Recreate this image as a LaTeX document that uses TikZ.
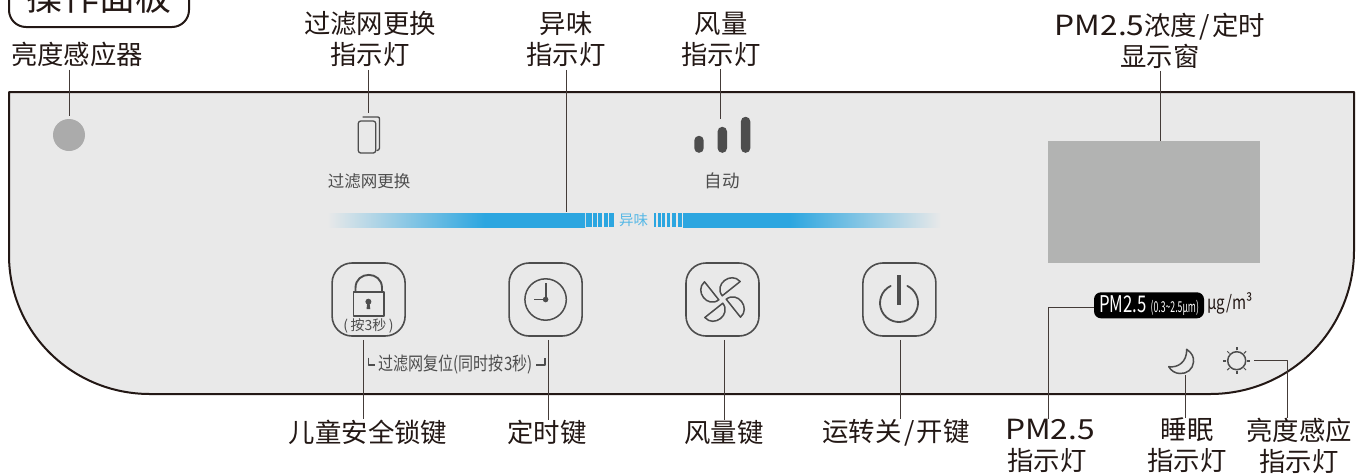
\documentclass[tikz,border=0pt]{standalone}
\usepackage{fontspec}
\setmainfont{Noto Sans CJK SC}
\newcommand{\pmtext}{\scalebox{1.2}[1.05]{PM2.5}}
\newcommand{\slashgap}{\hspace{2.5pt}/\hspace{2.5pt}}
\definecolor{inkc}{HTML}{231815}
\definecolor{iconc}{HTML}{4D4D4D}
\definecolor{panelc}{HTML}{E9E9E9}
\definecolor{windowc}{HTML}{B2B3B2}
\definecolor{sensorc}{HTML}{ABABAB}
\definecolor{barc}{HTML}{2CA6E0}
\pgfdeclarehorizontalshading{fadeleft}{100bp}{color(0bp)=(panelc); color(25bp)=(panelc); color(55.6bp)=(barc); color(100bp)=(barc)}
\pgfdeclarehorizontalshading{faderight}{100bp}{color(0bp)=(barc); color(45.7bp)=(barc); color(75bp)=(panelc); color(100bp)=(panelc)}
\tikzset{
	lbl/.style={align=center,inner sep=0pt,text=inkc,font=\fontsize{26.4}{31}\selectfont},
	small/.style={inner sep=0pt,text=iconc,font=\fontsize{16.5}{20}\selectfont},
	leader/.style={draw=inkc!85,line width=1pt,line cap=butt},
	keybox/.style={draw=iconc,line width=1.6pt,rounded corners=20pt,minimum size=73pt,inner sep=0pt},
	icon/.style={draw=iconc,line width=1.5pt},
	barpart/.style={shade,minimum width=258pt,minimum height=14pt,inner sep=0pt},
}
\begin{document}
\begin{tikzpicture}[x=1pt,y=-1pt,line join=round,line cap=round]
	\useasboundingbox (0,0) rectangle (1367,475);
	% panel
	\draw[draw=inkc,line width=2pt,fill=panelc] (9,92) -- (1354,92) -- (1354,250)
		.. controls (1354,330) and (1290,394) .. (1210,394) -- (150,394)
		.. controls (72,394) and (9,332) .. (9,255) -- cycle;
	\node[draw=inkc,line width=2pt,rounded corners=17pt,minimum width=180pt,minimum height=60pt,inner sep=0pt,font=\fontsize{36}{40}\selectfont,text=inkc] (title) at (99,-3) {操作面板};
	% upper row
	\node[circle,fill=sensorc,minimum size=32pt,inner sep=0pt] (sensor) at (69,135) {};
	\node[lbl] (lblsensor) at (77,54) {亮度感应器};
	\coordinate (sensordrop) at ([xshift=.5pt]sensor.north);
	\draw[leader,shorten <=3pt,shorten >=3pt] (sensordrop |- lblsensor.south) -- (sensordrop);
	\draw[icon,line width=1.3pt] (363,117) -- (378,117) to[out=0,in=90] (379.5,119) -- (379.5,148) to[out=-90,in=0] (377,150.5);
	\node[icon,line width=1.3pt,fill=panelc,rounded corners=2.5pt,minimum width=17.5pt,minimum height=32pt,inner sep=0pt] (filtericon) at (367,137) {};
	\node[small] (filtertxt) at (369,181) {过滤网更换};
	\node[lbl] (lblfilter) at (370,39) {过滤网更换\\指示灯};
	\coordinate (filterdrop) at ([xshift=1.5pt]filtericon.north);
	\draw[leader,shorten <=3pt,shorten >=7pt] (filterdrop |- lblfilter.south) -- (filterdrop);
	% odour bar
	\node[barpart,shading=fadeleft] (odorbar) at (456,220) {};
	\node[barpart,shading=faderight] (odorbarb) at (812,220) {};
	\foreach \a/\b in {586/591.5,593/596.5,598/602,604/607.5,609/613.5,654/656,657.7/660.7,662/665.3,667/670.3,672/676,678/682}
		\fill[barc] (\a,213) rectangle (\b,227);
	\node[inner sep=0pt,text=barc!80!white,font=\fontsize{14.5}{16}\selectfont] (odortxt) at (633.5,220) {异味};
	\node[lbl] (lblodor) at (566,39) {异味\\指示灯};
	\coordinate (odordrop) at ([xshift=110.5pt]odorbar.north);
	\draw[leader,shorten <=3pt,shorten >=1pt] (odordrop |- lblodor.south) -- (odordrop);
	% wind bars
	\foreach \nm/\x/\h in {winda/699/17,windb/722.3/26,windc/745.6/36}
		\node[fill=iconc,rounded corners=4.6pt,minimum width=9.4pt,minimum height=\h pt,inner sep=0pt,anchor=south] (\nm) at (\x,153) {};
	\node[small,font=\fontsize{17.5}{20}\selectfont] (windtxt) at (722,181) {自动};
	\node[lbl] (lblwind) at (721,39) {风量\\指示灯};
	\coordinate (winddrop) at ([xshift=-1.8pt]windb.north);
	\draw[leader,shorten <=3pt,shorten >=8pt] (winddrop |- lblwind.south) -- (winddrop);
	% display
	\node[fill=windowc,minimum width=212pt,minimum height=122pt,inner sep=0pt] (window) at (1154,202) {};
	\node[lbl] (lblwindow) at (1160,41) {\pmtext 浓度\slashgap 定时\\显示窗};
	\coordinate (windowdrop) at ([xshift=6.5pt]window.north);
	\draw[leader,shorten <=2pt] (windowdrop |- lblwindow.south) -- (windowdrop);
	% keys
	\node[keybox] (lockkey) at (368.6,299.5) {};
	\node[keybox] (clockkey) at (545.6,299.5) {};
	\node[keybox] (fankey) at (722.5,299.5) {};
	\node[keybox] (powerkey) at (899.4,299.5) {};
	\draw[icon,line width=1.9pt] (355.5,291.7) -- (355.5,288) .. controls (355.5,270.5) and (382,270.5) .. (382,288) -- (382,291.7);
	\draw[icon,line width=1.9pt] (353.5,291.7) rectangle (384.3,315.7);
	\fill[iconc] (368.4,301.7) circle (3pt);
	\fill[iconc] (367.4,302) -- (369.4,302) -- (370.3,309) -- (366.5,309) -- cycle;
	\node[small,font=\fontsize{14}{16}\selectfont] (locktxt) at (368.6,325.5) {(\hspace{2.5pt}按3秒\hspace{2.5pt})};
	\draw[icon] (clockkey.center) circle (20.7pt);
	\fill[iconc] (clockkey.center) circle (2.8pt);
	\draw[icon,line width=1.8pt,line cap=butt] (545.6,299.5) -- (545.6,282.7) (545.6,299.5) -- (534.3,299.5);
	\foreach \a in {0,90,180,270}
		\draw[icon,shift={(fankey.center)},rotate=\a] (-0.3,-3.7) .. controls (-9,-15) and (8.5,-28.5) .. (17.7,-18) -- cycle;
	\draw[icon,line width=1.8pt] (899,303) ++(116:19pt) arc[start angle=116,end angle=424,radius=19pt];
	\draw[iconc,line width=3.7pt,line cap=butt] (899,275) -- (899,305);
	\node[small,font=\fontsize{18.5}{20}\selectfont] (resettxt) at (455.5,364) {\scalebox{.814}[1]{过滤网复位(同时按3秒)}};
	\draw[iconc,line width=1.3pt,line cap=butt] (368.3,357.7) -- (368.3,365) -- (375,365);
	\draw[iconc,line width=1.3pt,line cap=butt] (536,365) -- (545,365) -- (545,357.7);
	% bottom labels
	\node[lbl] (lbllock) at (368,432) {儿童安全锁键};
	\node[lbl] (lblclock) at (547,432) {定时键};
	\node[lbl] (lblfan) at (724,432) {风量键};
	\node[lbl] (lblpower) at (896,433) {运转关\slashgap 开键};
	\coordinate (lockdrop) at ([xshift=-5.1pt]lockkey.south);
	\coordinate (clockdrop) at ([xshift=2.9pt]clockkey.south);
	\coordinate (fandrop) at ([xshift=2pt]fankey.south);
	\coordinate (powerdrop) at ([xshift=1.1pt]powerkey.south);
	\foreach \drop/\lab in {lockdrop/lbllock,clockdrop/lblclock,fandrop/lblfan,powerdrop/lblpower}
		\draw[leader,shorten <=3pt] (\drop) -- (\drop |- \lab.north);
	% right side
	\node[fill=black,rounded corners=7pt,minimum width=110pt,minimum height=26pt,inner sep=0pt,text=white] (pmbadge) at (1149,305.3) {\scalebox{.73}[1]{\fontsize{23}{26}\selectfont PM2.5}\hspace{4pt}\scalebox{.58}[1]{\fontsize{15}{16}\selectfont (0.3\textasciitilde 2.5µm)}};
	\node[inner sep=0pt,anchor=west,text=inkc] (unit) at (1207,303.5) {\scalebox{.8}[1]{\fontsize{19}{20}\selectfont µg/m³}};
	\node[lbl] (lblpm) at (1047,445.5) {\hspace*{6pt}\pmtext\\指示灯};
	\node[lbl] (lblmoon) at (1187,445.5) {睡眠\\指示灯};
	\node[lbl] (lblsun) at (1299,445.5) {亮度感应\\指示灯};
	\coordinate (pmcorner) at (1048.5,307.5);
	\draw[leader] (pmbadge.west |- pmcorner) -- (pmcorner) -- (pmcorner |- lblpm.north);
	\node[minimum width=26pt,minimum height=26pt,inner sep=0pt] (moon) at (1181,362) {};
	\draw[icon] (1186.7,349.3) .. controls (1192,353) and (1194,357) .. (1193.5,362) .. controls (1193,369) and (1187,374) .. (1180,373.5) .. controls (1175,373.5) and (1171,370.5) .. (1168.7,366.7) .. controls (1178,368) and (1187,362) .. (1186.7,349.3) -- cycle;
	\coordinate (moondrop) at ([xshift=4.5pt]moon.south);
	\draw[leader] (moondrop) -- (moondrop |- lblmoon.north);
	\node[circle,icon,minimum size=18pt,inner sep=0pt] (sun) at (1236.7,360.7) {};
	\foreach \a in {0,90,180,270}
		\draw[iconc,line width=1.9pt,line cap=butt] (sun.center) ++(\a:10.3pt) -- ++(\a:3.2pt);
	\foreach \a in {45,135,225,315}
		\draw[iconc,line width=1pt,line cap=butt] (sun.center) ++(\a:10.3pt) -- ++(\a:3pt);
	\coordinate (suncorner) at (1287.5,360.5);
	\draw[leader,shorten <=8pt] (sun.east |- suncorner) -- (suncorner) -- (suncorner |- lblsun.north);
\end{tikzpicture}
\end{document}
